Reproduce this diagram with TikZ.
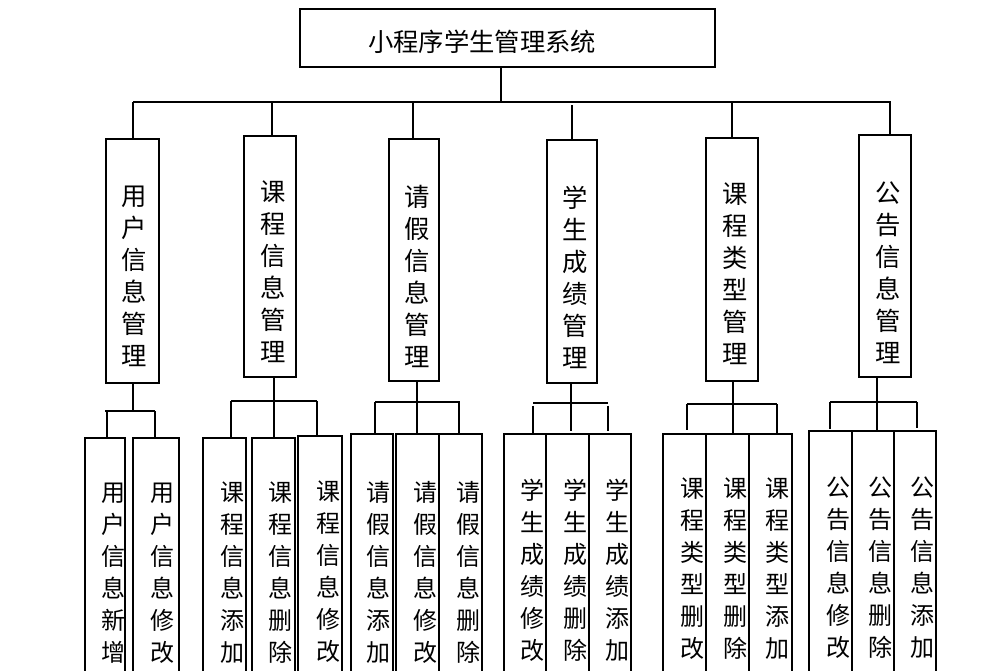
\documentclass[tikz,border=0pt]{standalone}
\usepackage{fontspec}
\newfontfamily\cjk{Noto Sans CJK SC}
\usetikzlibrary{fit}
\begin{document}
\begin{tikzpicture}[x=0.75pt,y=-0.75pt,line width=1.8pt,
  box/.style={draw, inner sep=0pt, fit={#1}},
  roottext/.style={font=\cjk\fontsize{19}{22}\selectfont, inner sep=0pt},
  midtext/.style={font=\cjk\fontsize{19}{24}\selectfont, align=center, inner sep=0pt},
  leaftext/.style={font=\cjk\fontsize{18}{24}\selectfont, align=center, inner sep=0pt}]
\useasboundingbox (0,0) rectangle (1008,671);
\fill[white] (0,0) rectangle (1008,671);
\clip (0,0) rectangle (1008,671);

% root
\node[box={(300,9) (715,67)}] (root) {};
\node[roottext] (roott) at (482,42) {小程序学生管理系统};

% level 2 boxes
\node[box={(106,139) (159,383)}] (u) {};
\node[box={(244,136) (296,377)}] (k) {};
\node[box={(389,139) (439,381)}] (q) {};
\node[box={(547,140) (597,383)}] (x) {};
\node[box={(706,138) (758,381)}] (t) {};
\node[box={(859,135) (911,377)}] (g) {};

\node[midtext] (ut) at (134,276) {用\\户\\信\\息\\管\\理};
\node[midtext] (kt) at (273,272) {课\\程\\信\\息\\管\\理};
\node[midtext] (qt) at (417,276) {请\\假\\信\\息\\管\\理};
\node[midtext] (xt) at (575,277) {学\\生\\成\\绩\\管\\理};
\node[midtext] (tt) at (735,274) {课\\程\\类\\型\\管\\理};
\node[midtext] (gt) at (888,273) {公\\告\\信\\息\\管\\理};

% leaves
\node[box={(85,438) (125,700)}] (u1) {};
\node[box={(133,438) (179,700)}] (u2) {};
\node[box={(203,438) (246,700)}] (k1) {};
\node[box={(252,438) (295,700)}] (k2) {};
\node[box={(298,436) (342,700)}] (k3) {};
\node[box={(351,434) (393,700)}] (q1) {};
\node[box={(396,434) (439,700)}] (q2) {};
\node[box={(439,434) (482,700)}] (q3) {};
\node[box={(504,434) (546,700)}] (x1) {};
\node[box={(546,434) (589,700)}] (x2) {};
\node[box={(589,434) (631,700)}] (x3) {};
\node[box={(663,434) (706,700)}] (t1) {};
\node[box={(706,434) (749,700)}] (t2) {};
\node[box={(749,434) (792,700)}] (t3) {};
\node[box={(809,431) (852,700)}] (g1) {};
\node[box={(852,431) (894,700)}] (g2) {};
\node[box={(894,431) (936,700)}] (g3) {};

\node[leaftext] (u1t) at (113,573) {用\\户\\信\\息\\新\\增};
\node[leaftext] (u2t) at (162,573) {用\\户\\信\\息\\修\\改};
\node[leaftext] (k1t) at (232,573) {课\\程\\信\\息\\添\\加};
\node[leaftext] (k2t) at (280,573) {课\\程\\信\\息\\删\\除};
\node[leaftext] (k3t) at (328,572) {课\\程\\信\\息\\修\\改};
\node[leaftext] (q1t) at (378,572) {请\\假\\信\\息\\添\\加};
\node[leaftext] (q2t) at (425,572) {请\\假\\信\\息\\修\\改};
\node[leaftext] (q3t) at (468,572) {请\\假\\信\\息\\删\\除};
\node[leaftext] (x1t) at (532,570) {学\\生\\成\\绩\\修\\改};
\node[leaftext] (x2t) at (575,570) {学\\生\\成\\绩\\删\\除};
\node[leaftext] (x3t) at (617,570) {学\\生\\成\\绩\\添\\加};
\node[leaftext] (t1t) at (692,569) {课\\程\\类\\型\\删\\改};
\node[leaftext] (t2t) at (735,569) {课\\程\\类\\型\\删\\除};
\node[leaftext] (t3t) at (777,569) {课\\程\\类\\型\\添\\加};
\node[leaftext] (g1t) at (838,568) {公\\告\\信\\息\\修\\改};
\node[leaftext] (g2t) at (880,568) {公\\告\\信\\息\\删\\除};
\node[leaftext] (g3t) at (922,568) {公\\告\\信\\息\\添\\加};

% level 1 connectors
\coordinate (rs) at (501,102);
\coordinate (b1) at (133,102);
\coordinate (b2) at (272,102);
\coordinate (b3) at (413,102);
\coordinate (b4) at (572,105);
\coordinate (b5) at (732,102);
\coordinate (b6) at (890,102);
\coordinate (be) at (891,102);
\draw (rs |- root.south) -- (rs);
\draw (b1) -- (be);
\draw (b1) -- (b1 |- u.north);
\draw (b2) -- (b2 |- k.north);
\draw (b3) -- (b3 |- q.north);
\draw (b4) -- (b4 |- x.north);
\draw (b5) -- (b5 |- t.north);
\draw (b6) -- (b6 |- g.north);

% user subtree
\coordinate (uh) at (133,411);
\coordinate (uhl) at (105,411);
\coordinate (ud1) at (107,411);
\coordinate (ud2) at (155,411);
\draw (uh |- u.south) -- (uh);
\draw (uhl) -- (ud2);
\draw (ud1) -- (ud1 |- u1.north);
\draw (ud2) -- (ud2 |- u2.north);

% course info subtree
\coordinate (kh) at (274,401);
\coordinate (kd1) at (231,401);
\coordinate (kd3) at (317,401);
\draw (kh |- k.south) -- (kh |- k2.north);
\draw (kd1) -- (kd3);
\draw (kd1) -- (kd1 |- k1.north);
\draw (kd3) -- (kd3 |- k3.north);

% leave subtree
\coordinate (qh) at (417,402);
\coordinate (qd1) at (375,402);
\coordinate (qd3) at (459,402);
\coordinate (qe) at (460,402);
\draw (qh |- q.south) -- (qh |- q2.north);
\draw (qd1) -- (qe);
\draw (qd1) -- (qd1 |- q1.north);
\draw (qd3) -- (qd3 |- q3.north);

% score subtree
\coordinate (xh) at (571,403);
\coordinate (xd1) at (533,403);
\coordinate (xd3) at (608,403);
\coordinate (xs1) at (533,405.5);
\coordinate (xs3) at (608,405.5);
\coordinate (xe2) at (571,431);
\coordinate (xe1) at (533,433);
\coordinate (xe3) at (608,431);
\draw (xh |- x.south) -- (xe2);
\draw (xd1) -- (xd3);
\draw (xs1) -- (xe1);
\draw (xs3) -- (xe3);

% course type subtree
\coordinate (th) at (733,404);
\coordinate (td1) at (687,404);
\coordinate (td3) at (777,404);
\coordinate (te1) at (687,430);
\draw (th |- t.south) -- (th |- t2.north);
\draw (td1) -- (td3);
\draw (td1) -- (te1);
\draw (td3) -- (td3 |- t3.north);

% notice subtree
\coordinate (gh) at (877,402);
\coordinate (gd1) at (830,402);
\coordinate (gd3) at (917,402);
\coordinate (ge1) at (830,429);
\coordinate (ge3) at (917,428);
\draw (gh |- g.south) -- (gh |- g2.north);
\draw (gd1) -- (gd3);
\draw (gd1) -- (ge1);
\draw (gd3) -- (ge3);
\end{tikzpicture}
\end{document}
